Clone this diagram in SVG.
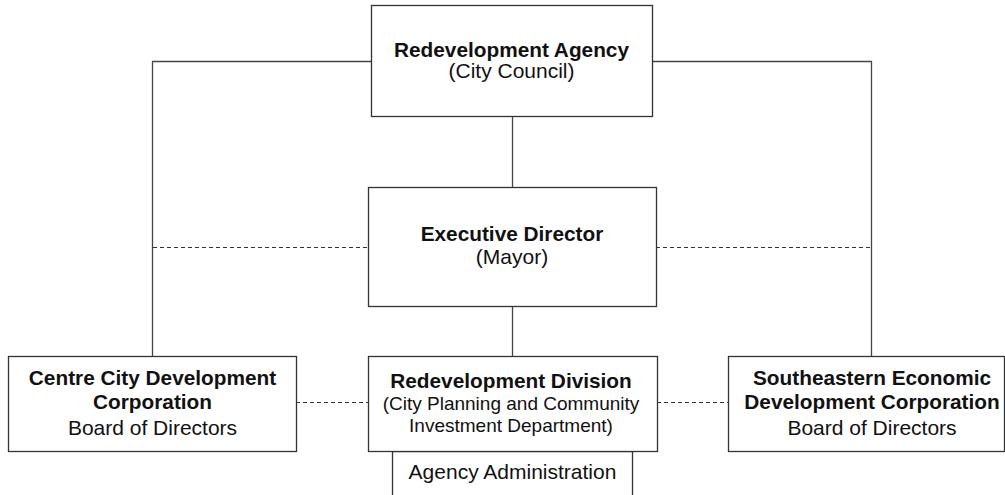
<svg xmlns="http://www.w3.org/2000/svg" width="1005" height="495" viewBox="0 0 1005 495">
  <style>
    .box { fill: #ffffff; stroke: #333333; stroke-width: 1.3; }
    .link { fill: none; stroke: #444444; stroke-width: 1.3; }
    .dash { fill: none; stroke: #333333; stroke-width: 1.2; stroke-dasharray: 4 3; }
    text { font-family: "Liberation Sans", Arial, sans-serif; font-size: 21px; fill: #111111; text-anchor: middle; }
    .b { font-weight: bold; font-size: 20.8px; }
    .s { font-size: 19px; }
  </style>

  <!-- connectors -->
  <g id="connectors">
    <polyline class="link" points="371,61.5 152.5,61.5 152.5,356"/>
    <polyline class="link" points="652,61.5 871.5,61.5 871.5,356"/>
    <line class="link" x1="512.5" y1="116" x2="512.5" y2="187"/>
    <line class="link" x1="512.5" y1="307" x2="512.5" y2="356"/>
    <line class="dash" x1="153" y1="247.5" x2="368" y2="247.5"/>
    <line class="dash" x1="656" y1="247.5" x2="871" y2="247.5"/>
    <line class="dash" x1="296" y1="402.5" x2="368" y2="402.5"/>
    <line class="dash" x1="657" y1="402.5" x2="728" y2="402.5"/>
  </g>

  <g id="redevelopment-agency">
    <rect class="box" x="371.5" y="5.5" width="281" height="111"/>
    <text class="b" x="511.5" y="57">Redevelopment Agency</text>
    <text x="511.5" y="78">(City Council)</text>
  </g>

  <g id="executive-director">
    <rect class="box" x="368.5" y="187.5" width="288" height="119"/>
    <text class="b" x="512" y="241">Executive Director</text>
    <text x="512" y="264">(Mayor)</text>
  </g>

  <g id="centre-city">
    <rect class="box" x="8.5" y="356.5" width="288" height="95"/>
    <text class="b" x="152.5" y="385">Centre City Development</text>
    <text class="b" x="152.5" y="409">Corporation</text>
    <text x="152.5" y="435">Board of Directors</text>
  </g>

  <g id="agency-administration">
    <rect class="box" x="392.5" y="451.5" width="240" height="60"/>
    <text x="512.5" y="479">Agency Administration</text>
  </g>

  <g id="redevelopment-division">
    <rect class="box" x="368.5" y="356.5" width="289" height="95"/>
    <text class="b" x="511" y="388">Redevelopment Division</text>
    <text class="s" x="511" y="410">(City Planning and Community</text>
    <text class="s" x="511" y="432">Investment Department)</text>
  </g>

  <g id="southeastern">
    <rect class="box" x="728.5" y="356.5" width="276" height="95"/>
    <text class="b" x="872" y="385">Southeastern Economic</text>
    <text class="b" x="872" y="409">Development Corporation</text>
    <text x="872" y="435">Board of Directors</text>
  </g>
</svg>
